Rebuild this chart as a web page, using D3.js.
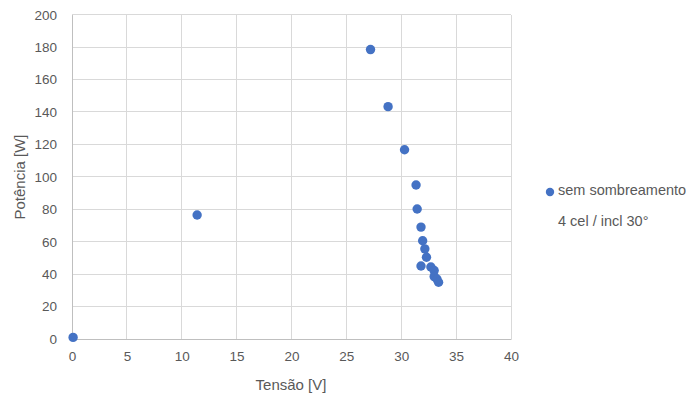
<!DOCTYPE html>
<html><head><meta charset="utf-8">
<script src="https://cdn.jsdelivr.net/npm/d3@7"></script>
<style>body{margin:0;background:#fff}svg{display:block}</style>
</head><body>
<svg id="c" width="686" height="396"></svg>
<script>
const tensao = [0.1, 11.4, 27.2, 28.8, 30.3, 31.35, 31.45, 31.8, 31.95, 32.15, 32.3, 31.8, 32.7, 33.0, 33.0, 33.25, 33.4];
const potencia = [1, 76.5, 178.5, 143.3, 116.7, 95, 80.2, 69, 60.6, 55.6, 50.4, 45, 44.4, 42.2, 38.5, 37, 35];
const xTicks = [0,5,10,15,20,25,30,35,40];
const yTicks = [0,20,40,60,80,100,120,140,160,180,200];
const seriesName = "sem sombreamento";
const subtitle = "4 cel / incl 30°";
const xTitle = "Tensão [V]";
const yTitle = "Potência [W]";

const svg = d3.select("#c");
const font = "'Liberation Sans', Arial, sans-serif";
const x = d3.scaleLinear().domain([0,40]).range([72,511]);
const y = d3.scaleLinear().domain([0,200]).range([339,14.7]);

const g = svg.append("g");
g.selectAll(".vg").data(xTicks).join("line")
  .attr("x1",d=>x(d)).attr("x2",d=>x(d)).attr("y1",y(0)).attr("y2",y(200))
  .attr("stroke","#d9d9d9").attr("stroke-width",1).attr("shape-rendering","crispEdges");
g.selectAll(".hg").data(yTicks).join("line")
  .attr("x1",x(0)).attr("x2",x(40)).attr("y1",d=>y(d)).attr("y2",d=>y(d))
  .attr("stroke","#d9d9d9").attr("stroke-width",1).attr("shape-rendering","crispEdges");

const xa = svg.append("g").attr("transform",`translate(0,${y(0)})`)
  .call(d3.axisBottom(x).tickValues(xTicks).tickSize(0).tickPadding(12));
const ya = svg.append("g").attr("transform",`translate(${x(0)},0)`)
  .call(d3.axisLeft(y).tickValues(yTicks).tickSize(0).tickPadding(15));
[xa,ya].forEach(a=>{
  a.select(".domain").attr("stroke","#bfbfbf");
  a.selectAll("text").attr("fill","#595959").attr("font-size","13.5px").attr("font-family",font);
});

svg.append("g").selectAll("circle").data(tensao.map((v,i)=>[v,potencia[i]])).join("circle")
  .attr("cx",d=>x(d[0])).attr("cy",d=>y(d[1])).attr("r",4.7).attr("fill","#4472c4");

svg.append("text").attr("x",291).attr("y",390).attr("text-anchor","middle")
  .attr("fill","#595959").attr("font-size","15px").attr("font-family",font).text(xTitle);
svg.append("text").attr("transform","translate(25,177) rotate(-90)").attr("text-anchor","middle")
  .attr("fill","#595959").attr("font-size","15px").attr("font-family",font).text(yTitle);

svg.append("circle").attr("cx",550).attr("cy",192).attr("r",4.2).attr("fill","#4472c4");
svg.append("text").attr("x",558).attr("y",195).attr("fill","#595959").attr("font-size","14.5px")
  .attr("font-family",font).text(seriesName);
svg.append("text").attr("x",558).attr("y",226).attr("fill","#595959").attr("font-size","14.5px")
  .attr("font-family",font).text(subtitle);
</script>
</body></html>
